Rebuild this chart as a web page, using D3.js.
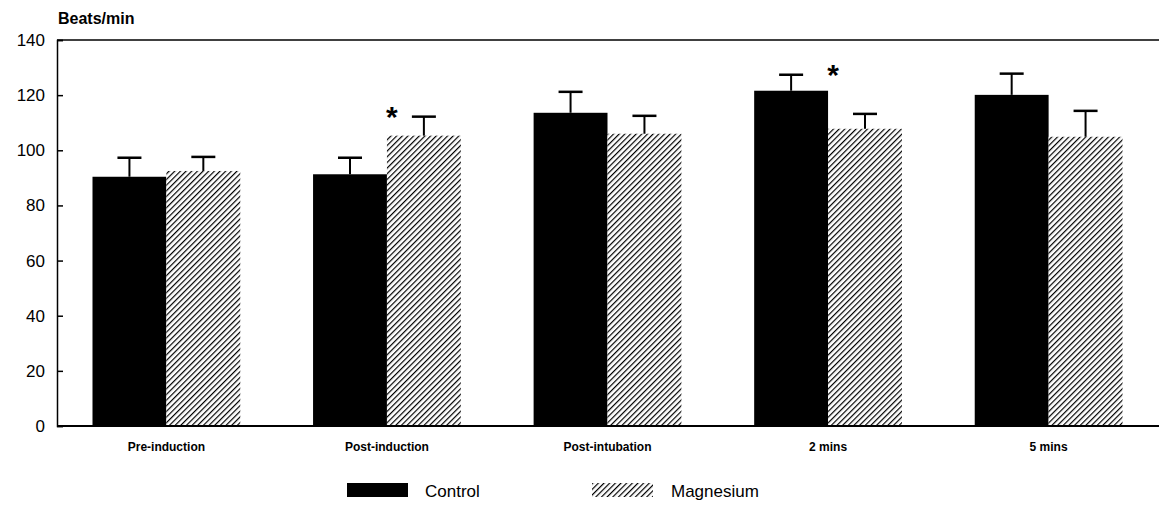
<!DOCTYPE html>
<html>
<head>
<meta charset="utf-8">
<script src="https://cdn.jsdelivr.net/npm/d3@7"></script>
<style>
  body { margin: 0; background: #fff; }
  svg text { font-family: "Liberation Sans", Arial, sans-serif; fill: #000; }
</style>
</head>
<body>
<div id="viz"></div>
<script>
/* heart rate bars, control vs magnesium, with SD whiskers */

var categories = ['Pre-induction', 'Post-induction', 'Post-intubation', '2 mins', '5 mins'];
var groups = ['Control', 'Magnesium'];
var controlMean = [90.4, 91.3, 113.6, 121.6, 120.1];
var controlErr = [97.3, 97.3, 121.2, 127.4, 127.8];
var magnesiumMean = [92.5, 105.3, 106.0, 107.8, 104.9];
var magnesiumErr = [97.6, 112.2, 112.5, 113.2, 114.3];
var yTicks = [0, 20, 40, 60, 80, 100, 120, 140];
var starred = ['Post-induction', '2 mins'];

var width = 1159, height = 506,
    margin = { top: 40, right: 0, bottom: 80, left: 57 };

var rows = [];
categories.forEach(function(c, i) {
  rows.push({ cat: c, group: 'Control', mean: controlMean[i], err: controlErr[i] });
  rows.push({ cat: c, group: 'Magnesium', mean: magnesiumMean[i], err: magnesiumErr[i] });
});

var svg = d3.select('#viz').append('svg')
    .attr('width', width)
    .attr('height', height);

var defs = svg.append('defs');
var hatch = defs.append('pattern')
    .attr('id', 'hatch')
    .attr('patternUnits', 'userSpaceOnUse')
    .attr('width', 4)
    .attr('height', 4)
    .attr('patternTransform', 'rotate(45)');
hatch.append('rect').attr('width', 4).attr('height', 4).attr('fill', '#fff');
hatch.append('line')
    .attr('x1', 0).attr('y1', 0).attr('x2', 0).attr('y2', 4)
    .attr('stroke', '#000').attr('stroke-width', 2.4);

var xScale = d3.scaleBand()
    .domain(categories)
    .range([55, 1160])
    .paddingInner(0.33)
    .paddingOuter(0.17);

var xSub = d3.scaleBand()
    .domain(groups)
    .range([0, xScale.bandwidth()]);

var yScale = d3.scaleLinear()
    .domain([0, 140])
    .range([height - margin.bottom, margin.top]);

var fills = { Control: '#000', Magnesium: 'url(#hatch)' };

// frame lines: top and bottom, no right side
svg.append('line')
    .attr('x1', margin.left).attr('x2', width)
    .attr('y1', yScale(140)).attr('y2', yScale(140))
    .attr('stroke', '#000').attr('stroke-width', 1.5);

// bars
svg.append('g').selectAll('rect').data(rows)
  .enter().append('rect')
    .attr('x', function(d) { return xScale(d.cat) + xSub(d.group); })
    .attr('width', xSub.bandwidth())
    .attr('y', function(d) { return yScale(d.mean); })
    .attr('height', function(d) { return yScale(0) - yScale(d.mean); })
    .attr('fill', function(d) { return fills[d.group]; });

// whiskers
var whisk = svg.append('g').selectAll('g').data(rows).enter().append('g');
whisk.append('line')
    .attr('x1', function(d) { return xScale(d.cat) + xSub(d.group) + xSub.bandwidth() / 2; })
    .attr('x2', function(d) { return xScale(d.cat) + xSub(d.group) + xSub.bandwidth() / 2; })
    .attr('y1', function(d) { return yScale(d.mean); })
    .attr('y2', function(d) { return yScale(d.err); })
    .attr('stroke', '#000').attr('stroke-width', 2);
whisk.append('line')
    .attr('x1', function(d) { return xScale(d.cat) + xSub(d.group) + xSub.bandwidth() / 2 - 12; })
    .attr('x2', function(d) { return xScale(d.cat) + xSub(d.group) + xSub.bandwidth() / 2 + 12; })
    .attr('y1', function(d) { return yScale(d.err); })
    .attr('y2', function(d) { return yScale(d.err); })
    .attr('stroke', '#000').attr('stroke-width', 2.5);

// significance stars
svg.append('g').selectAll('text').data(starred)
  .enter().append('text')
    .attr('x', function(c) { return xScale(c) + xSub('Magnesium') + 5; })
    .attr('y', function(c) {
      var i = categories.indexOf(c);
      return yScale(Math.max(controlErr[i], magnesiumErr[i])) + 10;
    })
    .attr('text-anchor', 'middle')
    .style('font-size', '30px')
    .style('font-weight', 'bold')
    .text('*');

// y axis
var yGuide = svg.append('g')
    .attr('transform', 'translate(' + margin.left + ',0)')
    .call(d3.axisRight(yScale).tickValues(yTicks).tickSize(6).tickFormat(''));
yGuide.select('.domain').attr('stroke-width', 1.5);
yGuide.selectAll('.tick line').attr('stroke-width', 1.5);

svg.append('g').selectAll('text').data(yTicks)
  .enter().append('text')
    .attr('x', 45)
    .attr('y', function(d) { return yScale(d) + 6; })
    .attr('text-anchor', 'end')
    .style('font-size', '17px')
    .text(function(d) { return d; });

svg.append('text')
    .attr('x', 58).attr('y', 24)
    .style('font-size', '16px')
    .style('font-weight', 'bold')
    .text('Beats/min');

// x axis baseline
svg.append('line')
    .attr('x1', margin.left).attr('x2', width)
    .attr('y1', yScale(0)).attr('y2', yScale(0))
    .attr('stroke', '#000').attr('stroke-width', 2);

svg.append('g').selectAll('text').data(categories)
  .enter().append('text')
    .attr('x', function(c) { return xScale(c) + xScale.bandwidth() / 2; })
    .attr('y', 451)
    .attr('text-anchor', 'middle')
    .style('font-size', '12px')
    .style('font-weight', 'bold')
    .text(function(c) { return c; });

// legend
var legendX = [347, 592];
var legend = svg.append('g').selectAll('g').data(groups)
  .enter().append('g')
    .attr('transform', function(d, i) { return 'translate(' + legendX[i] + ',483)'; });
legend.append('rect')
    .attr('width', 61).attr('height', 14)
    .attr('fill', function(d) { return fills[d]; });
legend.append('text')
    .attr('x', function(d, i) { return i === 0 ? 78 : 79; })
    .attr('y', 14)
    .style('font-size', '17px')
    .text(function(d) { return d; });
</script>
</body>
</html>
